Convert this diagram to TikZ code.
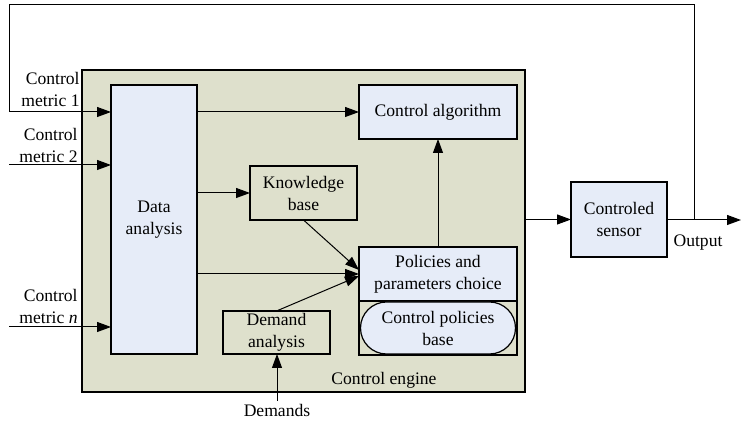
\documentclass[tikz,border=0pt]{standalone}
\usepackage{fontspec}
\setmainfont{Liberation Serif}
\usetikzlibrary{arrows.meta,shapes.misc}
\definecolor{engfill}{RGB}{222,224,204}
\definecolor{boxfill}{RGB}{230,236,248}
\tikzset{
  every node/.style={font=\fontsize{8.8}{11}\selectfont},
  bx/.style={draw=black, line width=0.6pt, inner sep=0pt, outer sep=0pt, align=center},
  bluebox/.style={bx, fill=boxfill},
  plainbox/.style={bx},
  lbl/.style={inner sep=0pt, align=center},
  conn/.style={line width=0.5pt, -{Triangle[length=7pt,width=5pt]}},
  wire/.style={line width=0.5pt}
}
\begin{document}
\begin{tikzpicture}[x=0.5pt,y=-0.5pt]
\useasboundingbox (0,0) rectangle (741,421);
% control engine
\node[bx, fill=engfill, minimum width=221.5pt, minimum height=161pt] (eng) at (303.5,231) {};
\node[lbl] (englbl) at (384,380) {Control engine};
% boxes
\node[bluebox, minimum width=43pt, minimum height=134.5pt] (da) at (154,219.5) {Data\\analysis};
\node[bluebox, minimum width=79pt, minimum height=27pt] (ca) at (438,112) {Control algorithm};
\node[plainbox, minimum width=53.5pt, minimum height=27pt] (kb) at (303.5,193) {Knowledge\\base};
\node[bluebox, minimum width=79pt, minimum height=27pt] (pc) at (438,274) {Policies and\\parameters choice};
\node[bx, minimum width=79pt, minimum height=27pt] (pbo) at (438,328) {};
\node[bx, fill=boxfill, rounded rectangle, minimum width=77.5pt, minimum height=26pt] (pb) at (438,328) {Control policies\\base};
\node[plainbox, minimum width=53.5pt, minimum height=21.5pt] (dm) at (276.5,332.5) {Demand\\analysis};
\node[bluebox, minimum width=48pt, minimum height=37.5pt] (sn) at (619,219.5) {Controled\\sensor};
% labels
\node[lbl, anchor=east, align=right] (m1l) at (80,89) {Control\\metric 1};
\node[lbl, anchor=east, align=right] (m2l) at (78,145) {Control\\metric 2};
\node[lbl, anchor=east, align=right] (mnl) at (78,306) {Control\\metric \textit{n}};
\node[lbl] (dl) at (277,410) {Demands};
\node[lbl] (ol) at (698,243) {Output};
% coordinates
\coordinate (br) at (694,220);
\coordinate (top) at (694,5);
\coordinate (tl) at (9,5);
\coordinate (m1) at (9,112);
\coordinate (m2) at (9,165);
\coordinate (mn) at (9,327);
\coordinate (dsrc) at (277,401);
\coordinate (out) at (741,220);
% connectors
\draw[wire] (br) -- (top) -- (tl) -- (m1);
\draw[conn] (m1) -- (da.west |- m1);
\draw[conn] (m2) -- (da.west |- m2);
\draw[conn] (mn) -- (da.west |- mn);
\draw[conn] (da.east |- ca.west) -- (ca.west);
\draw[conn] (da.east |- kb.west) -- (kb.west);
\draw[conn] (da.east |- pc.west) -- (pc.west);
\draw[conn] (kb.south) -- ([yshift=2pt]pc.west);
\draw[conn] (dm.north) -- ([yshift=-1pt]pc.west);
\draw[conn] (dsrc) -- (dm.south -| dsrc);
\draw[conn] (pc.north) -- (ca.south);
\draw[conn] (eng.east |- sn.west) -- (sn.west);
\draw[conn] (sn.east |- br) -- (out);
\end{tikzpicture}
\end{document}
